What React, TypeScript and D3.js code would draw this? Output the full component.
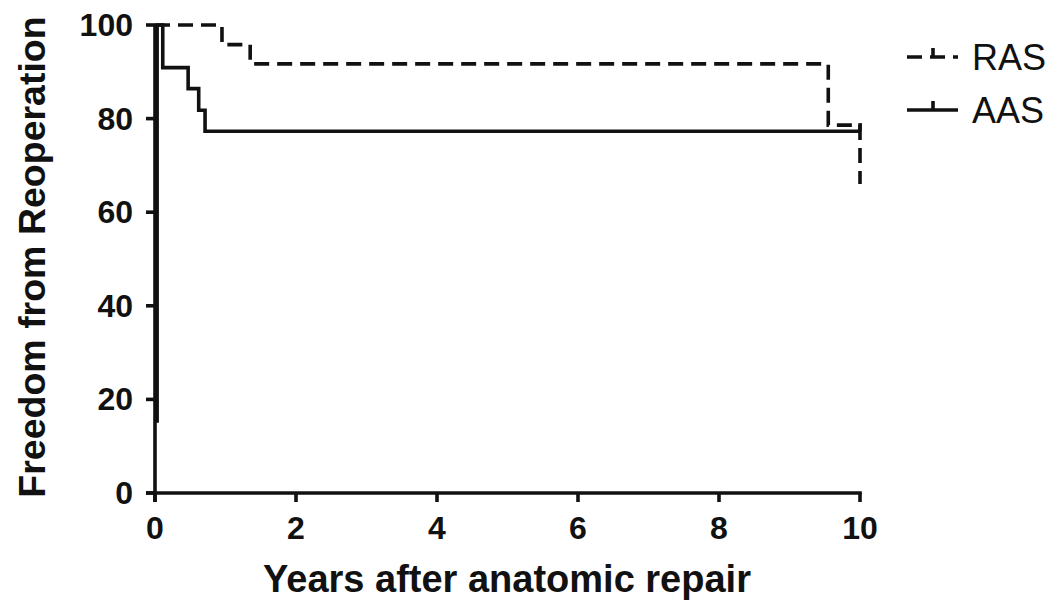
import React from "react";
import * as d3 from "d3";

// Kaplan–Meier steps: [years, freedom %]
const rasTimes = [0, 0.95, 1.35, 9.55, 10.0, 10.0];
const rasValues = [100, 95.8, 91.7, 78.6, 78.6, 66];
const aasTimes = [0.03, 0.03, 0.11, 0.47, 0.62, 0.71, 10.0];
const aasValues = [15, 100, 90.9, 86.4, 81.8, 77.3, 77.3];
const xTicks = [0, 2, 4, 6, 8, 10];
const yTicks = [0, 20, 40, 60, 80, 100];
const seriesNames = ["RAS", "AAS"];

const W = 1059;
const H = 610;
const m = { left: 155, right: 860, top: 25, bottom: 493 };

export default function App() {
  const x = d3.scaleLinear().domain([0, 10]).range([m.left, m.right]);
  const y = d3.scaleLinear().domain([0, 100]).range([m.bottom, m.top]);

  const step = d3
    .line<[number, number]>()
    .x((d) => x(d[0]))
    .y((d) => y(d[1]))
    .curve(d3.curveStepAfter);

  const ras: [number, number][] = rasTimes.map((t, i) => [t, rasValues[i]]);
  const aas: [number, number][] = aasTimes.map((t, i) => [t, aasValues[i]]);

  const font = "'Liberation Sans', Arial, sans-serif";
  const lw = 3.6;

  return (
    <svg
      width={W}
      height={H}
      style={{ position: "absolute", left: 0, top: 0, background: "#fff" }}
      fontFamily={font}
    >
      <rect width={W} height={H} fill="#fff" />
      {/* curves */}
      <path d={step(ras) ?? ""} fill="none" stroke="#111" strokeWidth={lw} strokeDasharray="15 8" />
      <path d={step(aas) ?? ""} fill="none" stroke="#111" strokeWidth={lw} />
      {/* censor mark at end of AAS */}
      <line x1={x(10)} x2={x(10)} y1={y(77.3)} y2={y(77.3) - 8} stroke="#111" strokeWidth={lw} />

      {/* y axis */}
      <line x1={m.left} x2={m.left} y1={m.top - 1} y2={m.bottom + 9} stroke="#111" strokeWidth={lw} />
      {yTicks.map((t) => (
        <g key={"y" + t}>
          <line x1={m.left - 9} x2={m.left} y1={y(t)} y2={y(t)} stroke="#111" strokeWidth={lw} />
          <text
            x={m.left - 22}
            y={y(t)}
            textAnchor="end"
            dominantBaseline="central"
            fontSize={32}
            fontWeight="bold"
            fill="#111"
          >
            {t}
          </text>
        </g>
      ))}

      {/* x axis */}
      <line x1={m.left - 9} x2={m.right + 1.8} y1={m.bottom} y2={m.bottom} stroke="#111" strokeWidth={lw} />
      {xTicks.map((t) => (
        <g key={"x" + t}>
          <line x1={x(t)} x2={x(t)} y1={m.bottom} y2={m.bottom + 9} stroke="#111" strokeWidth={lw} />
          <text
            x={x(t)}
            y={539}
            textAnchor="middle"
            fontSize={32}
            fontWeight="bold"
            fill="#111"
          >
            {t}
          </text>
        </g>
      ))}

      {/* axis titles */}
      <text x={507} y={592} textAnchor="middle" fontSize={38} fontWeight="bold" fill="#111">
        Years after anatomic repair
      </text>
      <text
        transform="translate(45,257) rotate(-90)"
        textAnchor="middle"
        fontSize={37.5}
        fontWeight="bold"
        fill="#111"
      >
        Freedom from Reoperation
      </text>

      {/* legend */}
      {seriesNames.map((name, i) => {
        const ly = 57 + i * 53;
        return (
          <g key={name}>
            <line
              x1={907}
              x2={958}
              y1={ly}
              y2={ly}
              stroke="#111"
              strokeWidth={lw}
              strokeDasharray={i === 0 ? "15 8" : undefined}
            />
            <line x1={933} x2={933} y1={ly} y2={ly - 9} stroke="#111" strokeWidth={lw} />
            <text x={972} y={ly} dominantBaseline="central" fontSize={36} fill="#111">
              {name}
            </text>
          </g>
        );
      })}
    </svg>
  );
}
